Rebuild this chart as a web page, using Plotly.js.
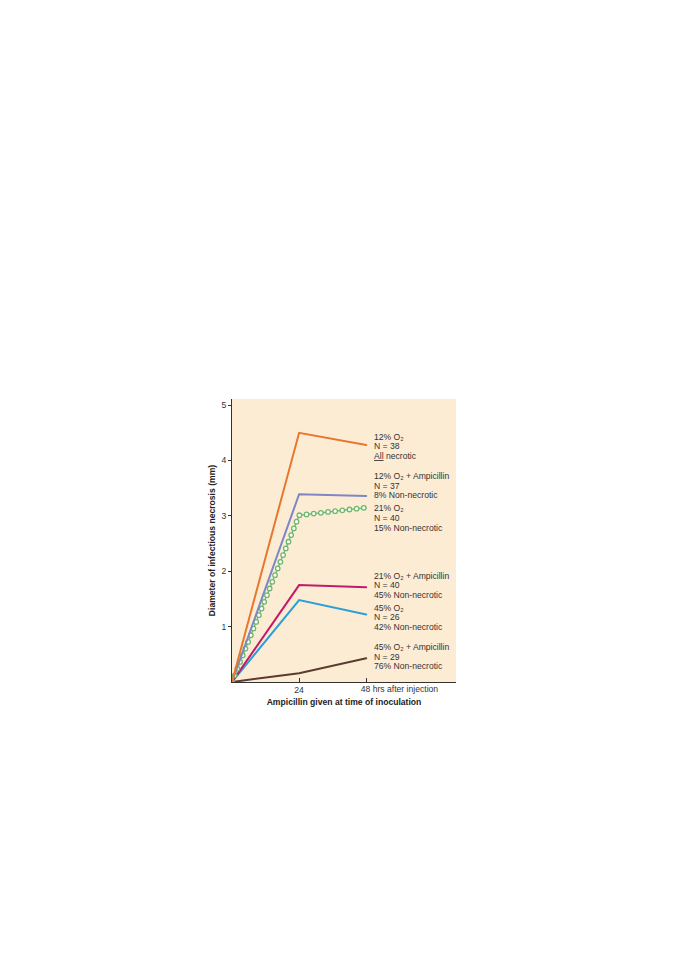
<!DOCTYPE html>
<html><head><meta charset="utf-8">
<script src="https://cdn.plot.ly/plotly-3.0.1.min.js"></script>
<style>
html,body{margin:0;padding:0;background:#fff;}
#chart{width:678px;height:960px;}
#chart .js-line{stroke-linecap:round;}
</style></head><body><div id="chart"></div>
<script>
// ---- data ----
const hours = [0, 24, 48];
const o2_12 = [0, 4.50, 4.28];
const o2_12_amp = [0, 3.39, 3.36];
const o2_21 = [0, 3.01, 3.15];
const o2_21_amp = [0, 1.75, 1.71];
const o2_45 = [0, 1.48, 1.22];
const o2_45_amp = [0, 0.16, 0.43];
const yTickVals = [1, 2, 3, 4, 5];
const yTickText = ['1', '2', '3', '4', '5'];
const xTickVals = [24];
const xTickText = ['24'];
const xEndTickVals = [48];
const xEndTickText = ['48 hrs after injection'];
const xTitle = 'Ampicillin given at time of inoculation';
const yTitle = 'Diameter of infectious necrosis (mm)';
const label12 = ['12% O₂', 'N = 38', '<u>All</u> necrotic'];
const label12amp = ['12% O₂ + Ampicillin', 'N = 37', '8% Non-necrotic'];
const label21 = ['21% O₂', 'N = 40', '15% Non-necrotic'];
const label21amp = ['21% O₂ + Ampicillin', 'N = 40', '45% Non-necrotic'];
const label45 = ['45% O₂', 'N = 26', '42% Non-necrotic'];
const label45amp = ['45% O₂ + Ampicillin', 'N = 29', '76% Non-necrotic'];

// ---- styling / positions ----
const FONT = 'Liberation Sans, Arial, sans-serif';
const TXT = '#333333';
const FS = 8.6;
const GREEN = '#6cb86c';

function line(y, color) {
  return {x: hours, y: y, type: 'scatter', mode: 'lines',
    line: {color: color, width: 2}, hoverinfo: 'skip', showlegend: false};
}
const traces = [
  line(o2_45_amp, '#5b3b30'),
  line(o2_45, '#2b9fd9'),
  line(o2_21_amp, '#c21a6a'),
  {x: hours, y: o2_21, type: 'scatter', mode: 'lines', line: {color: GREEN, width: 1.3}, hoverinfo: 'skip', showlegend: false},
  {x: hours, y: o2_21, type: 'scatter', mode: 'lines', line: {color: GREEN, width: 5.8, dash: '0px,7.2px'}, hoverinfo: 'skip', showlegend: false},
  {x: hours, y: o2_21, type: 'scatter', mode: 'lines', line: {color: '#ffffff', width: 3.2, dash: '0px,7.2px'}, hoverinfo: 'skip', showlegend: false},
  line(o2_12_amp, '#7c87c4'),
  line(o2_12, '#e8772e'),
  // carrier for the second x axis (end tick)
  {x: [48], y: [0], xaxis: 'x2', yaxis: 'y', type: 'scatter', mode: 'markers', marker: {opacity: 0}, hoverinfo: 'skip', showlegend: false}
];

const labelBlocks = [label12, label12amp, label21, label21amp, label45, label45amp];
const labelPosY = [4.43, 3.72, 3.135, 1.917, 1.345, 0.633];
const annotations = [];
labelBlocks.forEach((blk, i) => {
  blk.forEach((t, j) => {
    annotations.push({x: 50, y: labelPosY[i], xref: 'x', yref: 'y', text: t,
      xanchor: 'left', yanchor: 'middle', yshift: -9.6 * j, showarrow: false,
      font: {family: FONT, size: FS, color: TXT}});
  });
});

const axisCommon = {ticks: 'inside', ticklen: 4, tickcolor: '#333', showgrid: false, zeroline: false,
  automargin: false, tickfont: {family: FONT, size: FS, color: TXT}};
const layout = {
  width: 678, height: 960,
  margin: {l: 232, r: 222, t: 399, b: 278},
  paper_bgcolor: '#ffffff', plot_bgcolor: '#fdecd4',
  font: {family: FONT, size: FS, color: TXT},
  showlegend: false,
  xaxis: Object.assign({}, axisCommon, {range: [0, 80.1], tickvals: xTickVals, ticktext: xTickText,
    showline: true, linecolor: '#333', linewidth: 1,
    title: {text: xTitle, standoff: 4, font: {family: FONT, size: FS, color: '#222', weight: 'bold'}}}),
  xaxis2: Object.assign({}, axisCommon, {range: [0, 80.1], overlaying: 'x', side: 'bottom',
    tickvals: xEndTickVals, ticktext: xEndTickText, ticklabelposition: 'outside right', ticklabelshift: -6,
    showline: false}),
  yaxis: {range: [0, 5.11], tickvals: yTickVals, ticktext: yTickText,
    ticks: 'outside', ticklen: 3, tickcolor: '#333', showline: true, linecolor: '#333', linewidth: 1,
    showgrid: false, zeroline: false, automargin: false,
    tickfont: {family: FONT, size: FS, color: TXT},
    title: {text: yTitle, standoff: 4, font: {family: FONT, size: FS, color: '#222', weight: 'bold'}}},
  annotations: annotations
};
Plotly.newPlot('chart', traces, layout, {staticPlot: true, displayModeBar: false});
</script></body></html>
